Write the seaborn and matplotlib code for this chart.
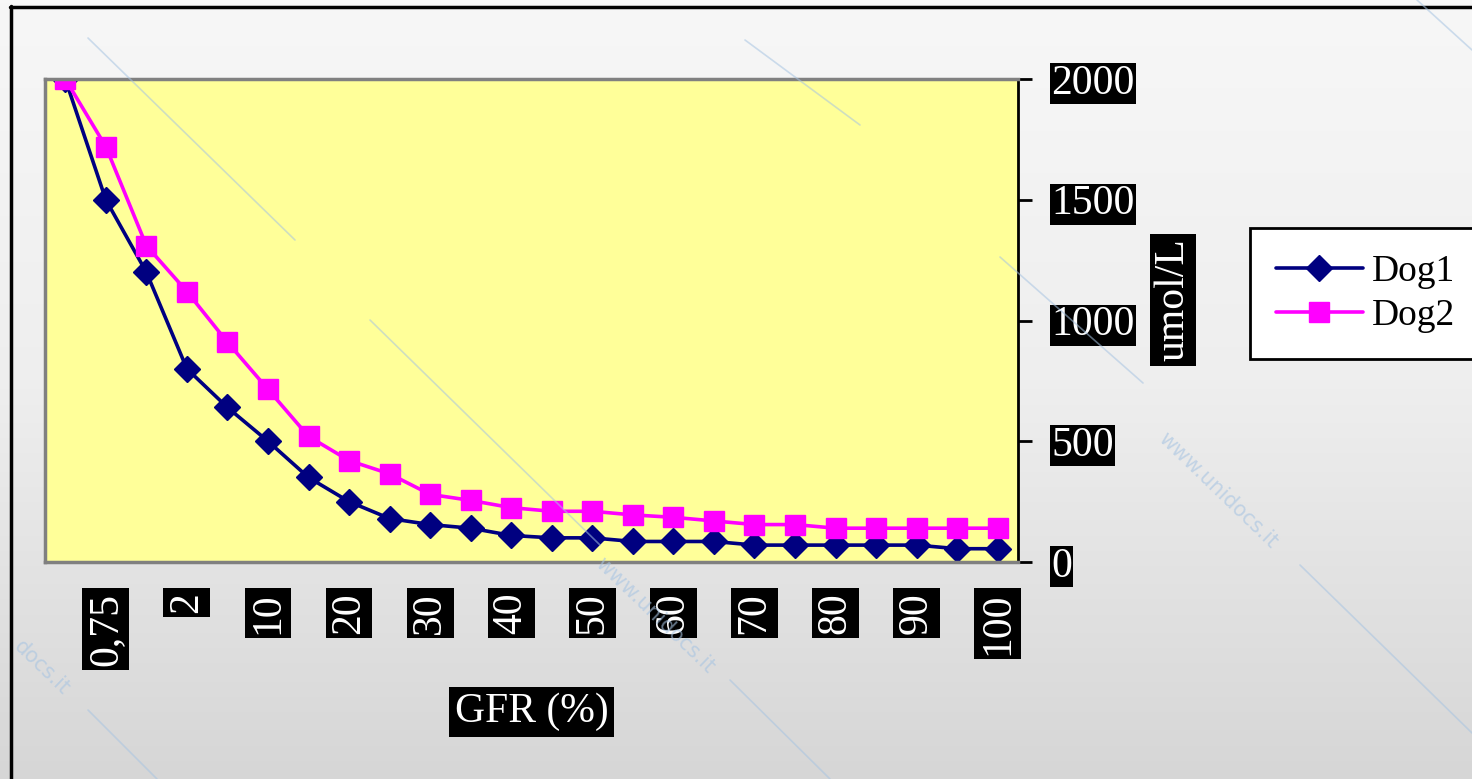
import numpy as np
import pandas as pd
import matplotlib
matplotlib.use("Agg")
import matplotlib.pyplot as plt
from matplotlib.lines import Line2D
from matplotlib.colors import LinearSegmentedColormap
import seaborn as sns

# GFR categories (percent) and creatinine levels for the two dogs
gfr_labels = ["0,5", "0,75", "1", "2", "5", "10", "15", "20", "25", "30", "35", "40",
              "45", "50", "55", "60", "65", "70", "75", "80", "85", "90", "95", "100"]
dog1 = [2000, 1500, 1200, 800, 640, 500, 350, 250, 180, 155, 140, 110,
        100, 100, 85, 85, 85, 70, 70, 70, 70, 70, 55, 55]
dog2 = [2000, 1720, 1310, 1120, 910, 715, 520, 420, 365, 280, 255, 225,
        210, 210, 195, 185, 170, 155, 155, 140, 140, 140, 140, 140]
series_names = ["Dog1", "Dog2"]
y_ticks = [0, 500, 1000, 1500, 2000]
x_title = "GFR (%)"
y_title = "umol/L"

sns.set_theme(style="white")
plt.rcParams["font.family"] = ["Liberation Serif", "DejaVu Serif"]

W, H = 1472, 779
fig = plt.figure(figsize=(W / 100, H / 100), dpi=100)


def fx(px):
    return px / W


def fy(py):
    return 1 - py / H


# soft grey gradient behind everything
bg = fig.add_axes([0, 0, 1, 1], zorder=-10)
grad = np.linspace(0, 1, 256)[:, None]
cmap = LinearSegmentedColormap.from_list("bggrad", ["#f7f7f7", "#eeeeee", "#d6d6d6"])
bg.imshow(grad, cmap=cmap, aspect="auto", extent=[0, 1, 0, 1])
bg.set_axis_off()

# plot area
ax = fig.add_axes([fx(45), fy(562), (1018 - 45) / W, (562 - 79) / H])
ax.set_facecolor("#FFFF99")

df = pd.DataFrame({
    "GFR": gfr_labels * 2,
    "value": dog1 + dog2,
    "dog": [series_names[0]] * len(dog1) + [series_names[1]] * len(dog2),
})

styles = {
    "Dog1": dict(color="#000080", marker="D", markersize=13),
    "Dog2": dict(color="#FF00FF", marker="s", markersize=14),
}
for name in series_names:
    sub = df[df["dog"] == name]
    st = styles[name]
    sns.lineplot(data=sub, x="GFR", y="value", ax=ax, sort=False,
                 color=st["color"], marker=st["marker"], markersize=st["markersize"],
                 markeredgecolor=st["color"], markeredgewidth=1,
                 linewidth=2.6, label=name, legend=False)

ax.set_xlim(-0.5, len(gfr_labels) - 0.5)
ax.set_ylim(0, 2000)

# every other category is labelled
ax.set_xticks(range(1, len(gfr_labels), 2))
ax.set_xticklabels(gfr_labels[1::2])
ax.yaxis.tick_right()
ax.yaxis.set_label_position("right")
ax.set_yticks(y_ticks)

ax.tick_params(axis="y", direction="out", length=10, width=2, color="black",
               pad=14, labelsize=30, labelcolor="white", left=False, right=True)
ax.tick_params(axis="x", length=0, pad=22, labelsize=30, labelcolor="white",
               labelrotation=90)

for lbl in ax.get_xticklabels():
    lbl.set_bbox(dict(facecolor="black", edgecolor="none", pad=3))
for lbl in ax.get_yticklabels():
    lbl.set_bbox(dict(facecolor="black", edgecolor="none", pad=1))

for s in ["left", "top", "bottom"]:
    ax.spines[s].set_color("#808080")
    ax.spines[s].set_linewidth(2.5)
ax.spines["right"].set_color("black")
ax.spines["right"].set_linewidth(2)

ax.set_xlabel(x_title, fontsize=30, color="white",
              bbox=dict(facecolor="black", edgecolor="none", pad=4))
ax.xaxis.set_label_coords(0.5, (562 - 712) / (562 - 79))
ax.xaxis.label.set_va("center")

ax.set_ylabel(y_title, fontsize=30, color="white", rotation=90,
              bbox=dict(facecolor="black", edgecolor="none", pad=3))
ax.yaxis.set_label_coords((1173 - 45) / (1018 - 45), (562 - 300) / (562 - 79))
ax.yaxis.label.set_va("center")
ax.yaxis.label.set_ha("center")

handles = ax.get_lines()[:2]
leg = ax.legend(handles, series_names, loc="upper left",
                bbox_to_anchor=(fx(1250), fy(228)), bbox_transform=fig.transFigure,
                borderaxespad=0, frameon=True, fancybox=False, fontsize=27,
                handlelength=2.3, handletextpad=0.25, borderpad=0.7,
                labelspacing=0.25)
leg.get_frame().set_edgecolor("black")
leg.get_frame().set_linewidth(2)
leg.get_frame().set_facecolor("white")
leg.get_frame().set_alpha(1)
for t in leg.get_texts():
    t.set_color("black")

# outer frame (left and top edges)
fig.add_artist(Line2D([fx(11), fx(11)], [fy(6), 0], color="black", lw=2.5))
fig.add_artist(Line2D([fx(10), 1], [fy(7), fy(7)], color="black", lw=2.5))

# faint diagonal watermark strokes
wm_color = "#a7c4e2"
segments = [
    ((88, 38), (295, 240)),
    ((370, 320), (600, 545)),
    ((1417, 0), (1472, 50)),
    ((1000, 257), (1143, 383)),
    ((1300, 565), (1472, 733)),
    ((88, 710), (157, 779)),
    ((745, 40), (860, 125)),
    ((730, 680), (830, 779)),
]
for (x0, y0), (x1, y1) in segments:
    fig.add_artist(Line2D([fx(x0), fx(x1)], [fy(y0), fy(y1)], color=wm_color,
                          lw=1.2, alpha=0.55, zorder=5))

for (px, py, txt) in [(1218, 490, "www.unidocs.it"), (655, 615, "www.unidocs.it"),
                      (42, 668, "docs.it")]:
    fig.text(fx(px), fy(py), txt, rotation=-44, color=wm_color,
             alpha=0.6, fontsize=15, family="DejaVu Sans", ha="center", va="center",
             zorder=5)

fig.savefig("out.png", dpi=100)
